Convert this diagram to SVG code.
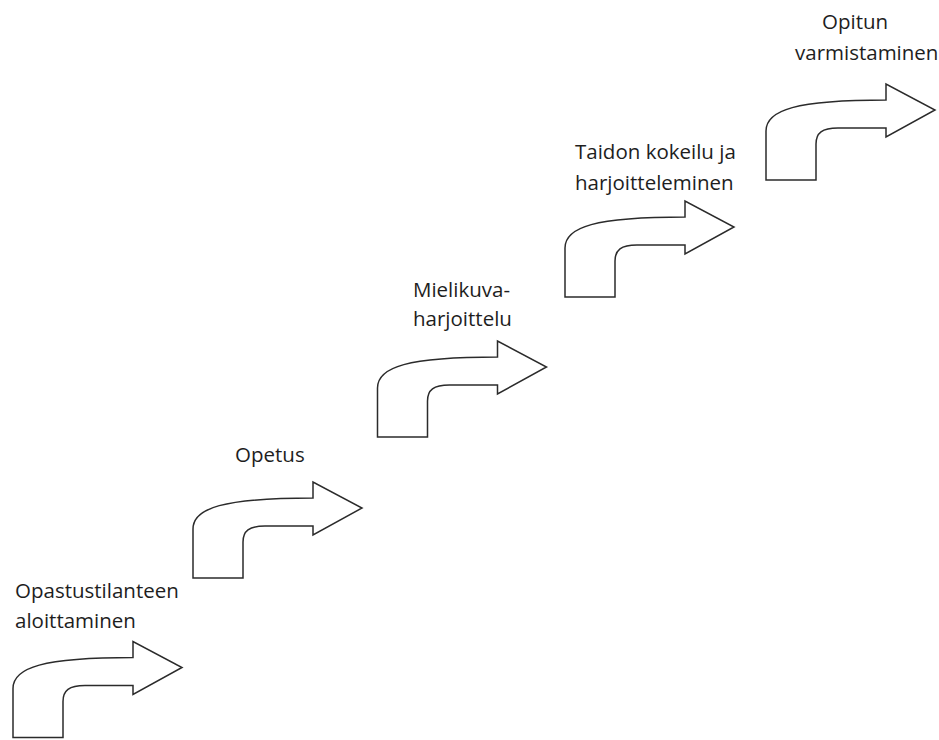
<svg xmlns="http://www.w3.org/2000/svg" xmlns:xlink="http://www.w3.org/1999/xlink" width="939" height="740" viewBox="0 0 939 740">
<style>
.arrow{fill:#ffffff;stroke:#2b2b2b;stroke-width:1.5;stroke-linejoin:miter}
.lbl{font-family:"Open Sans","Liberation Sans",sans-serif;font-size:20.5px;fill:#1e1e1e}
</style>
<defs>
<path id="bent" class="arrow" d="M0,0 L0,-49 C0,-70 30,-80 120,-80 L120,-96 L169,-70 L120,-43 L120,-52 L72,-52 C56,-52 50,-47 50,-36 L50,0 Z"/>
</defs>
<rect width="939" height="740" fill="#ffffff"/>
<g id="step1">
<use xlink:href="#bent" href="#bent" transform="translate(13,737.5)"/>
<text class="lbl" x="15" y="598">Opastustilanteen</text>
<text class="lbl" x="15" y="628">aloittaminen</text>
</g>
<g id="step2">
<use xlink:href="#bent" href="#bent" transform="translate(193,578)"/>
<text class="lbl" x="235" y="462">Opetus</text>
</g>
<g id="step3">
<use xlink:href="#bent" href="#bent" transform="translate(377.5,437)"/>
<text class="lbl" x="413" y="297">Mielikuva-</text>
<text class="lbl" x="413" y="326">harjoittelu</text>
</g>
<g id="step4">
<use xlink:href="#bent" href="#bent" transform="translate(565,297)"/>
<text class="lbl" x="575" y="159">Taidon kokeilu ja</text>
<text class="lbl" x="575" y="190">harjoitteleminen</text>
</g>
<g id="step5">
<use xlink:href="#bent" href="#bent" transform="translate(766,180)"/>
<text class="lbl" x="822" y="29">Opitun</text>
<text class="lbl" x="795" y="60">varmistaminen</text>
</g>
<g id="connectors"></g>
</svg>
